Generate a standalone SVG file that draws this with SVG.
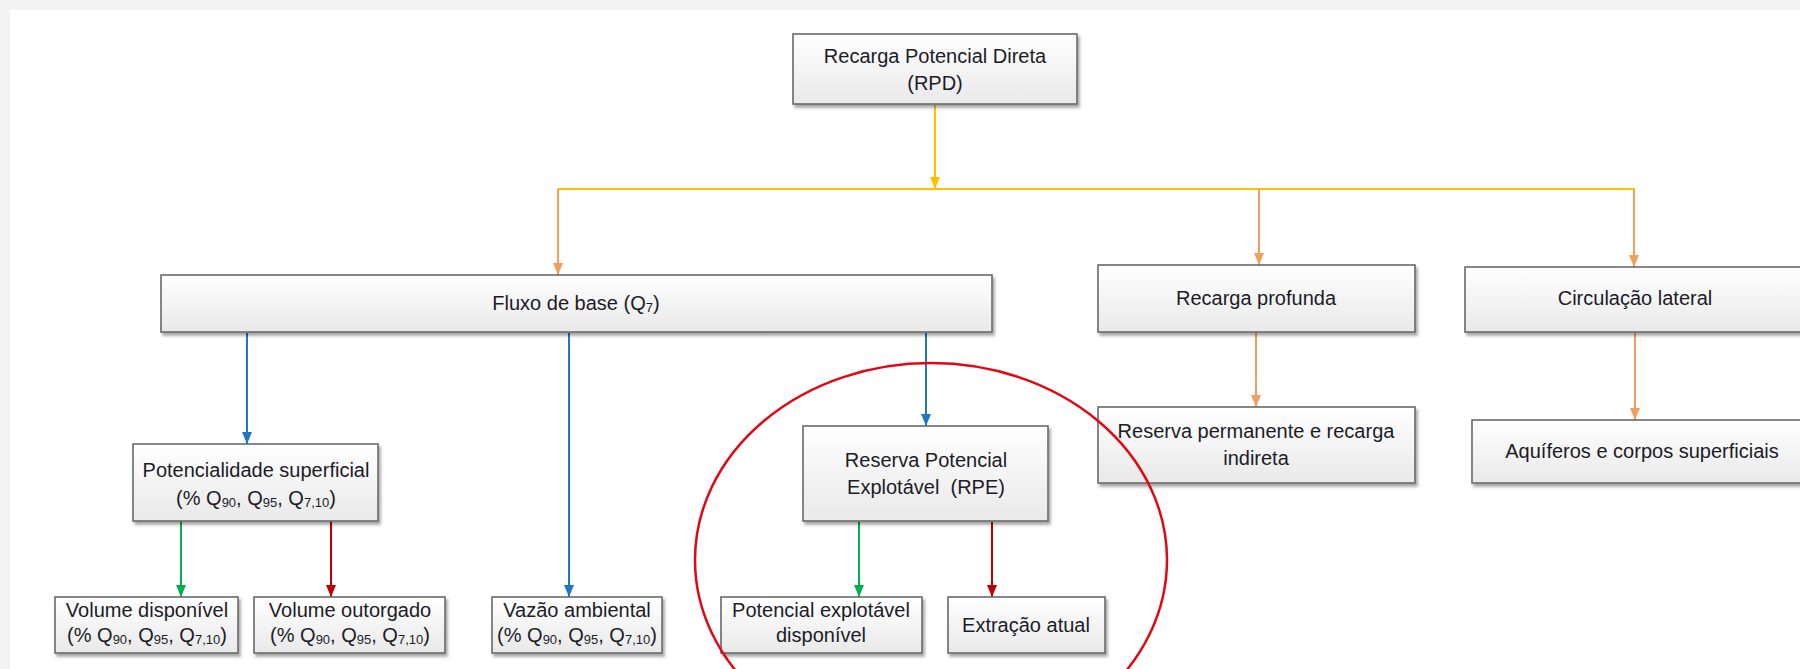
<svg xmlns="http://www.w3.org/2000/svg" width="1800" height="669" viewBox="0 0 1800 669">
<defs>
<linearGradient id="boxfill" x1="0" y1="0" x2="0" y2="1">
<stop offset="0" stop-color="#ffffff"/>
<stop offset="1" stop-color="#e9e9e9"/>
</linearGradient>
<filter id="shadow" x="-10%" y="-10%" width="120%" height="140%">
<feDropShadow dx="2" dy="3" stdDeviation="1.6" flood-color="#000" flood-opacity="0.35"/>
</filter>
<marker id="ah-yellow" viewBox="0 0 10 12" refX="5" refY="12" markerWidth="10" markerHeight="12" markerUnits="userSpaceOnUse"><path d="M0,0 L10,0 L5,12 Z" fill="#FFC000"/></marker>
<marker id="ah-orange" viewBox="0 0 10 12" refX="5" refY="12" markerWidth="10" markerHeight="12" markerUnits="userSpaceOnUse"><path d="M0,0 L10,0 L5,12 Z" fill="#F0A05A"/></marker>
<marker id="ah-blue" viewBox="0 0 10 12" refX="5" refY="12" markerWidth="10" markerHeight="12" markerUnits="userSpaceOnUse"><path d="M0,0 L10,0 L5,12 Z" fill="#1F77C4"/></marker>
<marker id="ah-green" viewBox="0 0 10 12" refX="5" refY="12" markerWidth="10" markerHeight="12" markerUnits="userSpaceOnUse"><path d="M0,0 L10,0 L5,12 Z" fill="#00B050"/></marker>
<marker id="ah-red" viewBox="0 0 10 12" refX="5" refY="12" markerWidth="10" markerHeight="12" markerUnits="userSpaceOnUse"><path d="M0,0 L10,0 L5,12 Z" fill="#C00000"/></marker>
</defs>
<style>
.box{fill:url(#boxfill);stroke:#6a6a6a;stroke-width:1.6;filter:url(#shadow);}
.t{font-family:"Liberation Sans",Arial,sans-serif;font-size:20px;fill:#1c1c28;text-anchor:middle;}
.sub{font-size:13px;}
.c{fill:none;stroke-width:2;}
.yel{stroke:#FFC000;}
.ora{stroke:#F0A05A;}
.blu{stroke:#1F77C4;}
.grn{stroke:#00B050;}
.red{stroke:#C00000;}
</style>
<rect x="0" y="0" width="1800" height="669" fill="#f3f3f3"/>
<rect x="10" y="10" width="1790" height="659" fill="#ffffff"/>

<g id="connectors">
<line class="c yel" x1="935" y1="105" x2="935" y2="189" marker-end="url(#ah-yellow)"/>
<line class="c yel" x1="558" y1="189" x2="1635" y2="189"/>
<line class="c ora" x1="558" y1="189" x2="558" y2="275" marker-end="url(#ah-orange)"/>
<line class="c ora" x1="1259" y1="189" x2="1259" y2="265" marker-end="url(#ah-orange)"/>
<line class="c ora" x1="1634" y1="189" x2="1634" y2="267" marker-end="url(#ah-orange)"/>
<line class="c blu" x1="247" y1="333" x2="247" y2="444" marker-end="url(#ah-blue)"/>
<line class="c blu" x1="569" y1="333" x2="569" y2="597" marker-end="url(#ah-blue)"/>
<line class="c blu" x1="926" y1="333" x2="926" y2="426" marker-end="url(#ah-blue)"/>
<line class="c grn" x1="181" y1="521" x2="181" y2="597" marker-end="url(#ah-green)"/>
<line class="c red" x1="331" y1="521" x2="331" y2="597" marker-end="url(#ah-red)"/>
<line class="c grn" x1="859" y1="522" x2="859" y2="597" marker-end="url(#ah-green)"/>
<line class="c red" x1="992" y1="522" x2="992" y2="597" marker-end="url(#ah-red)"/>
<line class="c ora" x1="1256" y1="333" x2="1256" y2="407" marker-end="url(#ah-orange)"/>
<line class="c ora" x1="1635" y1="333" x2="1635" y2="420" marker-end="url(#ah-orange)"/>
</g>

<g id="rpd">
<rect class="box" x="793" y="34" width="284" height="70"/>
<text class="t" x="935" y="63">Recarga Potencial Direta</text>
<text class="t" x="935" y="90">(RPD)</text>
</g>

<g id="fluxo">
<rect class="box" x="161" y="275" width="831" height="57"/>
<text class="t" x="576" y="310">Fluxo de base (Q<tspan class="sub" dy="2">7</tspan><tspan dy="-2">)</tspan></text>
</g>

<g id="recarga-profunda">
<rect class="box" x="1098" y="265" width="317" height="67"/>
<text class="t" x="1256" y="305">Recarga profunda</text>
</g>

<g id="circulacao">
<rect class="box" x="1465" y="267" width="345" height="65"/>
<text class="t" x="1635" y="305">Circulação lateral</text>
</g>

<g id="potencialidade">
<rect class="box" x="133" y="444" width="245" height="77"/>
<text class="t" x="256" y="477">Potencialidade superficial</text>
<text class="t" x="256" y="505">(% Q<tspan class="sub" dy="2">90</tspan><tspan dy="-2">, Q</tspan><tspan class="sub" dy="2">95</tspan><tspan dy="-2">, Q</tspan><tspan class="sub" dy="2">7,10</tspan><tspan dy="-2">)</tspan></text>
</g>

<g id="rpe">
<rect class="box" x="803" y="426" width="245" height="95"/>
<text class="t" x="926" y="467">Reserva Potencial</text>
<text class="t" x="926" y="494" xml:space="preserve">Explotável  (RPE)</text>
</g>

<g id="reserva-permanente">
<rect class="box" x="1098" y="407" width="317" height="76"/>
<text class="t" x="1256" y="438">Reserva permanente e recarga</text>
<text class="t" x="1256" y="465">indireta</text>
</g>

<g id="aquiferos">
<rect class="box" x="1472" y="420" width="340" height="63"/>
<text class="t" x="1642" y="458">Aquíferos e corpos superficiais</text>
</g>

<g id="volume-disponivel">
<rect class="box" x="55" y="597" width="183" height="56"/>
<text class="t" x="147" y="617">Volume disponível</text>
<text class="t" x="147" y="642">(% Q<tspan class="sub" dy="2">90</tspan><tspan dy="-2">, Q</tspan><tspan class="sub" dy="2">95</tspan><tspan dy="-2">, Q</tspan><tspan class="sub" dy="2">7,10</tspan><tspan dy="-2">)</tspan></text>
</g>

<g id="volume-outorgado">
<rect class="box" x="254" y="597" width="191" height="56"/>
<text class="t" x="350" y="617">Volume outorgado</text>
<text class="t" x="350" y="642">(% Q<tspan class="sub" dy="2">90</tspan><tspan dy="-2">, Q</tspan><tspan class="sub" dy="2">95</tspan><tspan dy="-2">, Q</tspan><tspan class="sub" dy="2">7,10</tspan><tspan dy="-2">)</tspan></text>
</g>

<g id="vazao-ambiental">
<rect class="box" x="492" y="597" width="170" height="56"/>
<text class="t" x="577" y="617">Vazão ambiental</text>
<text class="t" x="577" y="642">(% Q<tspan class="sub" dy="2">90</tspan><tspan dy="-2">, Q</tspan><tspan class="sub" dy="2">95</tspan><tspan dy="-2">, Q</tspan><tspan class="sub" dy="2">7,10</tspan><tspan dy="-2">)</tspan></text>
</g>

<g id="potencial-explotavel">
<rect class="box" x="721" y="597" width="201" height="56"/>
<text class="t" x="821" y="617">Potencial explotável</text>
<text class="t" x="821" y="642">disponível</text>
</g>

<g id="extracao-atual">
<rect class="box" x="948" y="597" width="157" height="56"/>
<text class="t" x="1026" y="632">Extração atual</text>
</g>

<g id="highlight">
<ellipse cx="931" cy="560" rx="236" ry="197" fill="none" stroke="#E30613" stroke-width="2.5"/>
</g>
</svg>
